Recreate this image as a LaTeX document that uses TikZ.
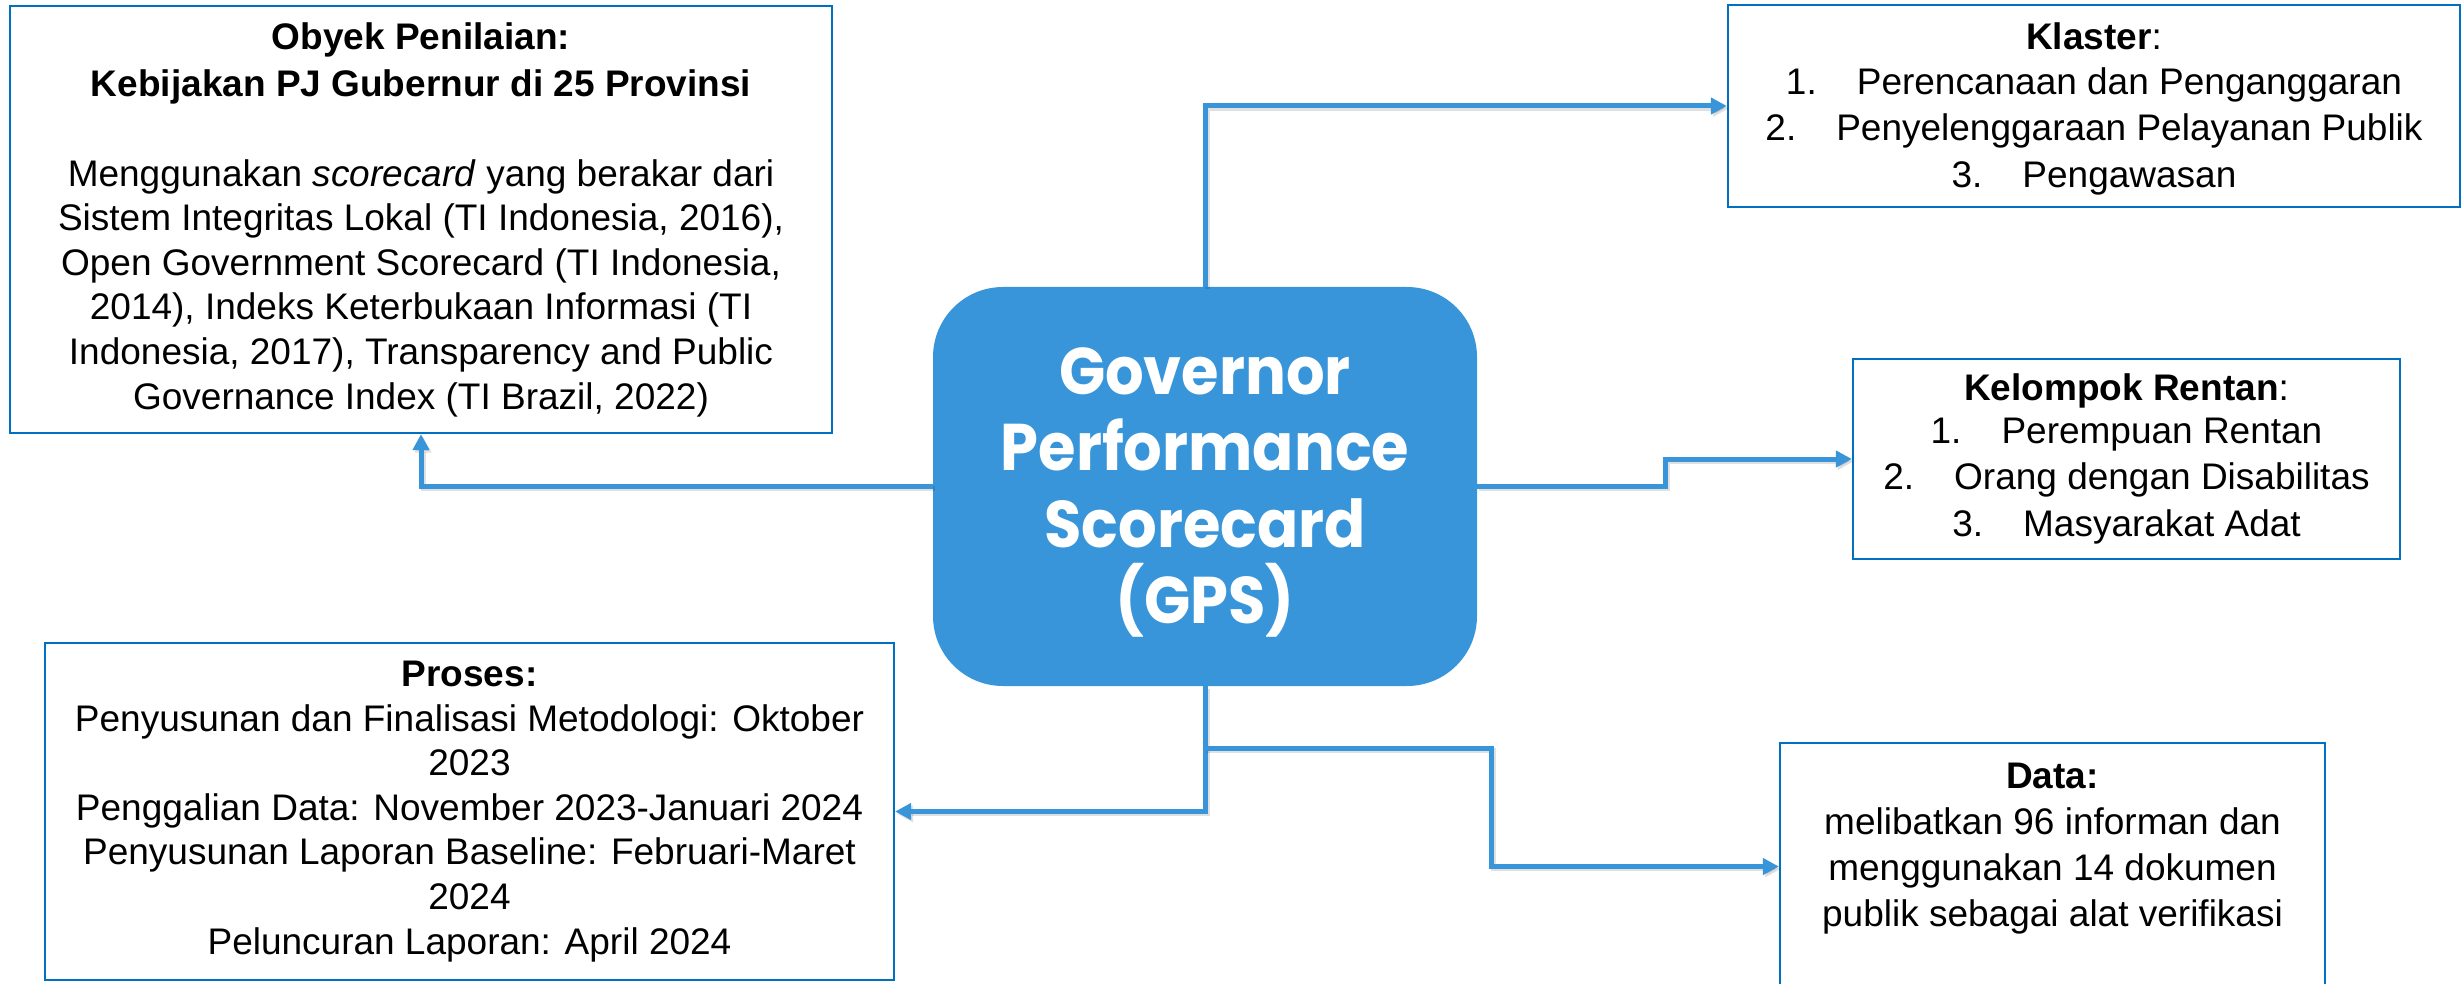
\documentclass[tikz,border=0pt]{standalone}
\usepackage{fontspec}
\setmainfont{Liberation Sans}
\newfontfamily\gpsfont{Poppins}[FakeStretch=0.92]
\usetikzlibrary{arrows.meta}
\definecolor{gpsblue}{RGB}{57,149,217}
\definecolor{boxblue}{RGB}{0,112,192}
\tikzset{
  infobox/.style={draw=boxblue, line width=1.1pt, fill=white, inner sep=0pt, align=center,
    font=\fontsize{18.5}{22.3}\selectfont},
  conn/.style={draw=gpsblue, line width=2.5pt, line join=miter,
    -{Triangle[length=8pt,width=8pt]},
    preaction={draw=black, opacity=0.12, line width=2.5pt, transform canvas={shift={(1pt,-1.2pt)}}}},
}
\begin{document}
\begin{tikzpicture}[x=0.5pt,y=-0.5pt]
\useasboundingbox (0,0) rectangle (2463,984);
\clip (0,0) rectangle (2463,984);

% central node
\node[fill=gpsblue, rounded corners=35pt, minimum width=272pt, minimum height=199.5pt,
      inner sep=0pt, align=center, text=white,
      font=\gpsfont\bfseries\fontsize{33}{38.15}\selectfont] (gps) at (1205,486.5)
  {\rule{0pt}{29.5pt}Governor\\Performance\\Scorecard\\(GPS)};

% boxes
\node[infobox, minimum width=411pt, minimum height=213.5pt] (obyek) at (421,219.5)
  {\textbf{Obyek Penilaian:}\\[1.2pt]
   \textbf{Kebijakan PJ Gubernur di 25 Provinsi}\\[22.7pt]
   Menggunakan \textit{scorecard} yang berakar dari\\
   Sistem Integritas Lokal (TI Indonesia, 2016),\\
   Open Government Scorecard (TI Indonesia,\\
   2014), Indeks Keterbukaan Informasi (TI\\
   Indonesia, 2017), Transparency and Public\\
   Governance Index (TI Brazil, 2022)};

\node[infobox, minimum width=366pt, minimum height=101pt,
      font=\fontsize{18.5}{23.2}\selectfont] (klaster) at (2094,106)
  {\rule{0pt}{16pt}\textbf{Klaster}:\\[-0.6pt]
   1.\hspace{20pt}Perencanaan dan Penganggaran\\
   2.\hspace{20pt}Penyelenggaraan Pelayanan Publik\\
   3.\hspace{20pt}Pengawasan};

\node[infobox, minimum width=273.5pt, minimum height=100pt,
      font=\fontsize{18.5}{23.2}\selectfont] (kelompok) at (2126.5,459)
  {\textbf{Kelompok Rentan}:\\[-2pt]
   1.\hspace{20pt}Perempuan Rentan\\
   2.\hspace{20pt}Orang dengan Disabilitas\\
   3.\hspace{20pt}Masyarakat Adat};

\node[infobox, minimum width=424.5pt, minimum height=168.5pt] (proses) at (469.5,811.5)
  {\textbf{Proses:}\\
   Penyusunan dan Finalisasi Metodologi: Oktober\\
   2023\\
   Penggalian Data: November 2023-Januari 2024\\
   Penyusunan Laporan Baseline: Februari-Maret\\
   2024\\
   Peluncuran Laporan: April 2024};

\node[infobox, minimum width=272.5pt, minimum height=123.5pt] (data) at (2052.5,866.5) {};
\node[anchor=north, inner sep=0pt, align=center, font=\fontsize{18.5}{23}\selectfont,
      yshift=-10.5pt] (datatext) at (data.north)
  {\textbf{Data:}\\
   melibatkan 96 informan dan\\
   menggunakan 14 dokumen\\
   publik sebagai alat verifikasi};

% connectors
\coordinate (rstep) at (1665,486.5);
\coordinate (bsplit) at (1205,748);
\coordinate (bstep) at (1491,748);
\draw[conn] (gps.north) |- (klaster.west);
\draw[conn] (gps.west) -| (obyek.south);
\draw[conn] (gps.east) -- (rstep) |- (kelompok.west);
\draw[conn] (gps.south) |- (proses.east);
\draw[conn] (bsplit) -- (bstep) |- (data.west);
\end{tikzpicture}
\end{document}
